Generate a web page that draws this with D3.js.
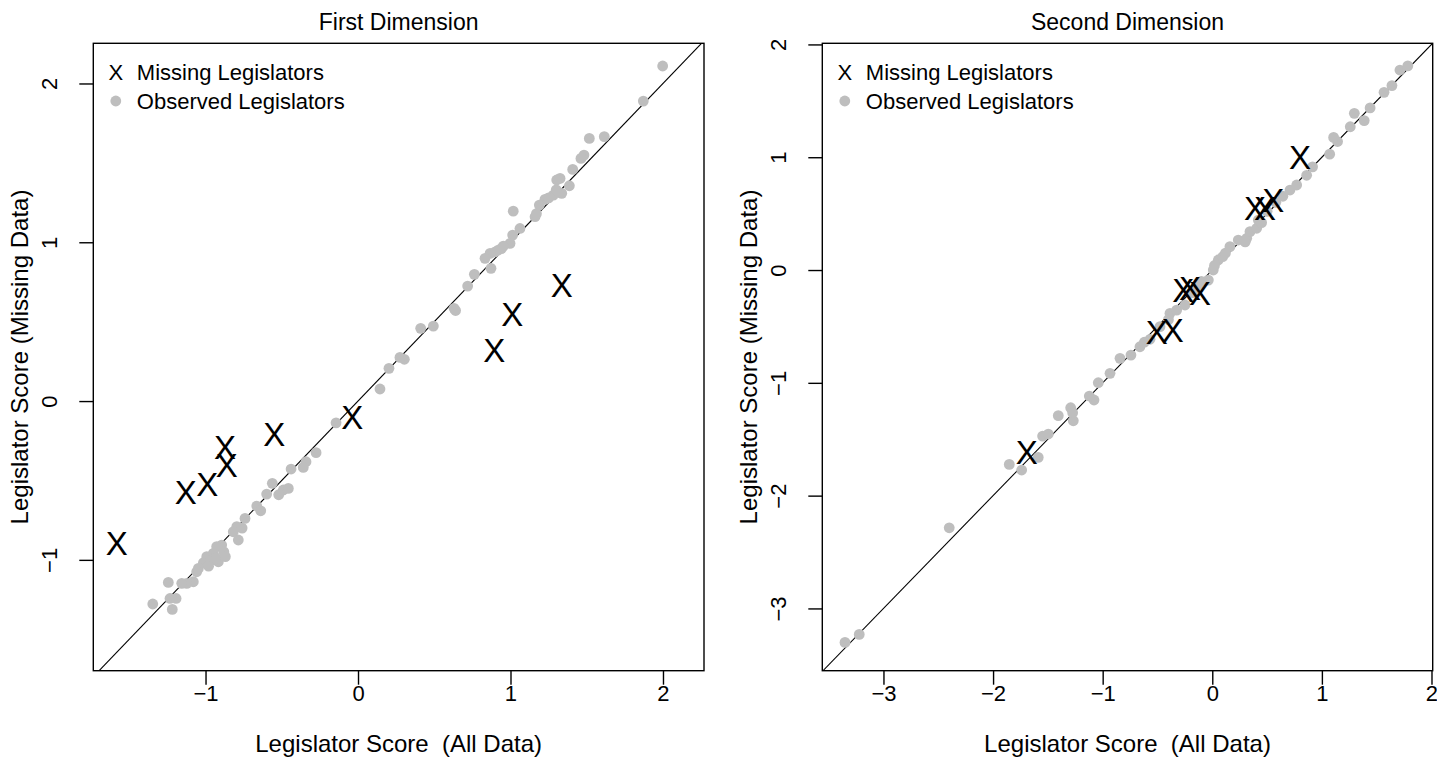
<!DOCTYPE html>
<html>
<head>
<meta charset="utf-8">
<script src="https://cdn.jsdelivr.net/npm/d3@7"></script>
<style>
  body { margin: 0; background: #fff; }
  svg text { font-family: "Liberation Sans", Arial, Helvetica, sans-serif; fill: #000; white-space: pre; }
</style>
</head>
<body>
<svg id="chart" width="1437" height="757"></svg>
<script>
// Data
// ------------------------------

var tickValues1 = [-1, 0, 1, 2];
var tickValues2 = [-3, -2, -1, 0, 1, 2];

// [all data score, missing data score]
var dim1Observed = [
  [0.144,0.076],[-0.144,-0.137],[-0.275,-0.325],[-0.341,-0.382],[-0.359,-0.418],[-0.439,-0.428],
  [-0.562,-0.518],[-0.599,-0.586],[-0.490,-0.560],[-0.457,-0.550],[-0.520,-0.590],[-0.664,-0.661],
  [-0.638,-0.691],[-0.741,-0.739],[-0.795,-0.791],[-0.785,-0.875],[-0.818,-0.823],[-0.760,-0.800],
  [-0.894,-0.907],[-0.927,-0.917],[-0.949,-0.959],[-0.916,-1.012],[-0.992,-0.980],[-1.014,-1.018],
  [-1.047,-1.054],[-1.058,-1.075],[-0.960,-1.000],[-0.930,-0.990],[-0.980,-1.040],[-1.080,-1.138],
  [-1.123,-1.148],[-1.156,-1.148],[-1.244,-1.142],[-1.233,-1.243],[-1.193,-1.243],[-1.218,-1.312],
  [-1.346,-1.278],[-0.880,-0.950],[-0.870,-0.980],
  [1.998,2.110],[1.871,1.889],[1.517,1.654],[1.615,1.665],[1.482,1.549],[1.462,1.528],[1.408,1.459],
  [1.325,1.402],[1.303,1.392],[1.386,1.356],[1.336,1.308],[1.281,1.297],[1.226,1.270],[1.189,1.234],
  [1.161,1.161],[1.018,1.196],[1.062,1.087],[1.014,1.045],[0.997,0.993],[0.953,0.976],[0.920,0.951],
  [0.866,0.930],[0.833,0.899],[0.872,0.836],[0.763,0.798],[0.719,0.724],[0.630,0.584],[0.640,0.570],
  [0.494,0.472],[0.411,0.458],[0.304,0.263],[0.275,0.275],[0.203,0.206],[1.170,1.180],[0.900,0.940],
  [0.940,0.960],[1.250,1.280],[1.300,1.330]
];
var dim1Missing = [
  [-1.582,-0.896],[-1.130,-0.571],[-0.988,-0.523],[-0.872,-0.288],[-0.861,-0.403],
  [-0.549,-0.208],[-0.037,-0.099],[1.336,0.730],[1.012,0.548],[0.894,0.321]
];

var dim2Observed = [
  [-3.351,-3.301],[-3.221,-3.230],[-2.400,-2.285],[-1.852,-1.723],[-1.739,-1.773],[-1.588,-1.661],
  [-1.548,-1.472],[-1.496,-1.454],[-1.405,-1.291],[-1.292,-1.221],[-1.268,-1.336],[-1.274,-1.265],
  [-1.079,-1.152],[-1.122,-1.117],[-1.040,-0.999],[-0.933,-0.916],[-0.842,-0.783],[-0.742,-0.754],
  [-0.660,-0.680],[-0.568,-0.614],[-0.477,-0.502],[-0.386,-0.384],[-0.325,-0.355],[-0.249,-0.310],
  [-0.036,-0.089],[0.009,0.000],[0.055,0.089],[0.095,0.118],[0.161,0.207],[0.237,0.266],[0.314,0.281],
  [0.344,0.340],[0.405,0.370],[0.420,0.443],[0.709,0.709],[0.770,0.754],[1.071,1.027],[1.143,1.139],
  [1.107,1.176],[1.259,1.270],[1.296,1.389],[1.386,1.325],[1.440,1.437],[1.567,1.575],[1.639,1.635],
  [1.712,1.773],[1.784,1.810],[0.915,0.915],[0.861,0.840],[0.644,0.654],[-0.130,-0.140],[-0.100,-0.100],
  [0.020,0.040],[0.120,0.150],[0.500,0.520],[0.580,0.600],[0.450,0.420],[0.300,0.250],[-0.180,-0.200],
  [-0.620,-0.640],[-0.400,-0.440]
];
var dim2Missing = [
  [-1.693,-1.611],[-0.507,-0.547],[-0.361,-0.532],[-0.265,-0.177],[-0.203,-0.163],
  [-0.112,-0.207],[0.390,0.547],[0.481,0.547],[0.557,0.621],[0.800,1.004]
];

var legendLabels = ["Missing Legislators", "Observed Legislators"];

// Panels
// ------------------------------

var panels = [
  {
    title: "First Dimension",
    xDomain: [-1.736, 2.269], yDomain: [-1.698, 2.253],
    left: 93.3, right: 704, top: 43.3, bottom: 670.7,
    ticks: tickValues1, observed: dim1Observed, missing: dim1Missing
  },
  {
    title: "Second Dimension",
    xDomain: [-3.558, 2.011], yDomain: [-3.552, 2.010],
    left: 822.3, right: 1432.7, top: 43.3, bottom: 670.7,
    ticks: tickValues2, observed: dim2Observed, missing: dim2Missing
  }
];

var svg = d3.select("#chart");
svg.append("rect").attr("width", 1437).attr("height", 757).attr("fill", "#fff");

var fs = 22;
var fmt = d3.format("d");

panels.forEach(function(p, i) {
  var x = d3.scaleLinear().domain(p.xDomain).range([p.left, p.right]);
  var y = d3.scaleLinear().domain(p.yDomain).range([p.bottom, p.top]);
  var cx = (p.left + p.right) / 2,
      cy = (p.top + p.bottom) / 2;

  var clipId = "clip" + i;
  svg.append("clipPath").attr("id", clipId)
    .append("rect")
    .attr("x", p.left).attr("y", p.top)
    .attr("width", p.right - p.left).attr("height", p.bottom - p.top);

  var g = svg.append("g");

  // 45 degree line
  var lo = Math.min(p.xDomain[0], p.yDomain[0]) - 1,
      hi = Math.max(p.xDomain[1], p.yDomain[1]) + 1;
  g.append("line")
    .attr("clip-path", "url(#" + clipId + ")")
    .attr("x1", x(lo)).attr("y1", y(lo))
    .attr("x2", x(hi)).attr("y2", y(hi))
    .attr("stroke", "#000").attr("stroke-width", 1.1);

  // observed legislators
  g.append("g").selectAll("circle")
    .data(p.observed)
    .enter().append("circle")
    .attr("cx", function(d) { return x(d[0]); })
    .attr("cy", function(d) { return y(d[1]); })
    .attr("r", 5.4)
    .attr("fill", "#bebebe");

  // missing legislators
  g.append("g").selectAll("text")
    .data(p.missing)
    .enter().append("text")
    .attr("x", function(d) { return x(d[0]); })
    .attr("y", function(d) { return y(d[1]); })
    .attr("dy", "0.36em")
    .attr("text-anchor", "middle")
    .style("font-size", "33px")
    .text("X");

  // box
  g.append("rect")
    .attr("x", p.left).attr("y", p.top)
    .attr("width", p.right - p.left).attr("height", p.bottom - p.top)
    .attr("fill", "none").attr("stroke", "#000").attr("stroke-width", 1.4);

  // axes
  var xAxis = g.append("g")
    .attr("transform", "translate(0," + p.bottom + ")")
    .call(d3.axisBottom(x).tickValues(p.ticks).tickFormat(fmt).tickSize(14).tickPadding(4));
  var yAxis = g.append("g")
    .attr("transform", "translate(" + p.left + ",0)")
    .call(d3.axisLeft(y).tickValues(p.ticks).tickFormat(fmt).tickSize(14).tickPadding(6));

  [xAxis, yAxis].forEach(function(a) {
    a.select(".domain").remove();
    a.selectAll(".tick line").attr("stroke", "#000").attr("stroke-width", 1.4);
    a.selectAll(".tick text").style("font-size", fs + "px")
      .style("font-family", "'Liberation Sans', Arial, sans-serif").attr("fill", "#000");
  });
  xAxis.selectAll(".tick text").attr("dy", "0.55em");
  yAxis.selectAll(".tick text")
    .attr("x", null).attr("dy", null)
    .attr("text-anchor", "middle")
    .attr("transform", "translate(-36,0) rotate(-90)")
    .attr("y", 0);

  // titles
  g.append("text")
    .attr("x", cx).attr("y", 30)
    .attr("text-anchor", "middle")
    .style("font-size", "23px")
    .text(p.title);
  g.append("text")
    .attr("x", cx).attr("y", 752)
    .attr("text-anchor", "middle")
    .style("font-size", "24px")
    .text("Legislator Score  (All Data)");
  g.append("text")
    .attr("transform", "translate(" + (p.left - 65) + "," + cy + ") rotate(-90)")
    .attr("text-anchor", "middle")
    .style("font-size", "24px")
    .text("Legislator Score (Missing Data)");

  // legend
  var lg = g.append("g").attr("transform", "translate(" + (p.left + 22.5) + ",72)");
  lg.append("text")
    .attr("x", 0).attr("y", 0).attr("dy", "0.36em")
    .attr("text-anchor", "middle")
    .style("font-size", fs + "px")
    .text("X");
  lg.append("circle")
    .attr("cx", 0).attr("cy", 29).attr("r", 5.4)
    .attr("fill", "#bebebe");
  lg.selectAll("text.lab")
    .data(legendLabels)
    .enter().append("text")
    .attr("class", "lab")
    .attr("x", 21).attr("y", function(d, k) { return k * 29; })
    .attr("dy", "0.36em")
    .style("font-size", fs + "px")
    .text(function(d) { return d; });
});
</script>
</body>
</html>
